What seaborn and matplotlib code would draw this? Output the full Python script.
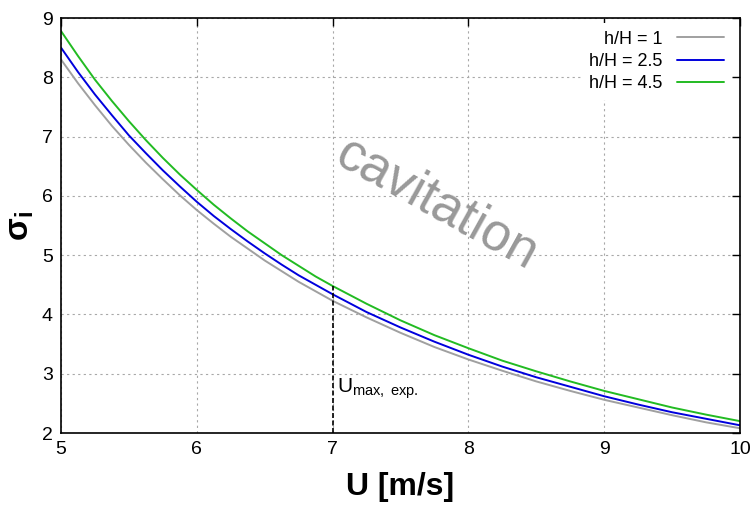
import matplotlib
matplotlib.use("Agg")
import matplotlib.pyplot as plt
import seaborn as sns
import pandas as pd

# ---- data ----
U = [5.0, 5.125, 5.25, 5.375, 5.5, 5.625, 5.75, 5.875, 6.0, 6.125, 6.25, 6.375,
     6.5, 6.625, 6.75, 6.875, 7.0, 7.25, 7.5, 7.75,
     8.0, 8.25, 8.5, 8.75, 9.0, 9.25, 9.5, 9.75, 10.0]
sigma_h1 = [8.30, 7.90, 7.53, 7.18, 6.86, 6.56, 6.28, 6.01, 5.76, 5.53, 5.31, 5.11,
            4.91, 4.73, 4.55, 4.39, 4.23, 3.95, 3.69, 3.45,
            3.24, 3.05, 2.87, 2.71, 2.56, 2.43, 2.30, 2.18, 2.08]
sigma_h25 = [8.50, 8.09, 7.71, 7.36, 7.02, 6.72, 6.43, 6.16, 5.90, 5.66, 5.44, 5.23,
             5.03, 4.84, 4.66, 4.50, 4.34, 4.04, 3.78, 3.54,
             3.32, 3.12, 2.94, 2.78, 2.62, 2.48, 2.35, 2.24, 2.13]
sigma_h45 = [8.78, 8.36, 7.96, 7.60, 7.26, 6.94, 6.64, 6.36, 6.10, 5.85, 5.62, 5.40,
             5.20, 5.00, 4.82, 4.64, 4.48, 4.18, 3.90, 3.65,
             3.43, 3.22, 3.04, 2.87, 2.71, 2.57, 2.43, 2.31, 2.20]
series_labels = ["h/H = 1", "h/H = 2.5", "h/H = 4.5"]
colors = ["#a0a0a0", "#0000dd", "#22bb22"]
x_ticks = [5, 6, 7, 8, 9, 10]
y_ticks = [2, 3, 4, 5, 6, 7, 8, 9]
U_max_exp = 7.0
U_max_sigma = 4.48

df = pd.DataFrame({
    "U": U * 3,
    "sigma": sigma_h1 + sigma_h25 + sigma_h45,
    "series": [series_labels[0]] * len(U) + [series_labels[1]] * len(U) + [series_labels[2]] * len(U),
})

sns.set_theme(style="white")
plt.rcParams["font.family"] = ["Liberation Sans", "DejaVu Sans"]
plt.rcParams["text.color"] = "black"
plt.rcParams["axes.labelcolor"] = "black"
plt.rcParams["mathtext.fontset"] = "custom"
plt.rcParams["mathtext.rm"] = "Liberation Sans"
plt.rcParams["mathtext.it"] = "Liberation Sans:italic"
plt.rcParams["mathtext.bf"] = "Liberation Sans:bold"

fig = plt.figure(figsize=(7.55, 5.07), dpi=100)
ax = fig.add_axes([61 / 755, 1 - 433 / 507, (740 - 61) / 755, (433 - 18) / 507])

sns.lineplot(data=df, x="U", y="sigma", hue="series", palette=colors,
             hue_order=series_labels, ax=ax, linewidth=1.4, legend=True)

ax.set_xlim(5, 10)
ax.set_ylim(2, 9)
ax.set_xticks(x_ticks)
ax.set_yticks(y_ticks)
ax.tick_params(direction="in", length=6, width=1, top=True, right=True,
               labelsize=14, pad=6, colors="black")
ax.grid(True, color="#a8a8a8", linestyle=(0, (2, 3)), linewidth=0.8)
for s in ax.spines.values():
    s.set_color("black")
    s.set_linewidth(1.2)

ax.set_xlabel("U [m/s]", fontsize=23, fontweight="bold", labelpad=10)
ax.set_ylabel("σ$_\\mathregular{i}$", fontsize=24, fontweight="bold", labelpad=4)

ax.vlines(U_max_exp, 2, U_max_sigma, colors="black", linestyles=(0, (3, 1.5)), linewidth=1.2)
ax.text(U_max_exp + 0.03, 2.68, "U$_\\mathregular{max,\\ exp.}$", fontsize=15, color="black")

ax.text(7.77, 5.85, "cavitation", fontsize=38, color="#999999", rotation=-29,
        ha="center", va="center", rotation_mode="anchor")

leg = ax.legend(loc="upper right", frameon=True, markerfirst=False, fontsize=13,
                handlelength=2.6, labelspacing=0.3, borderaxespad=0.3,
                borderpad=0.4, bbox_to_anchor=(0.995, 1.0),
                facecolor="white", edgecolor="none", framealpha=1.0, fancybox=False)
for t in leg.get_texts():
    t.set_ha("right")
    t.set_color("black")

fig.savefig("out.png", dpi=100)
